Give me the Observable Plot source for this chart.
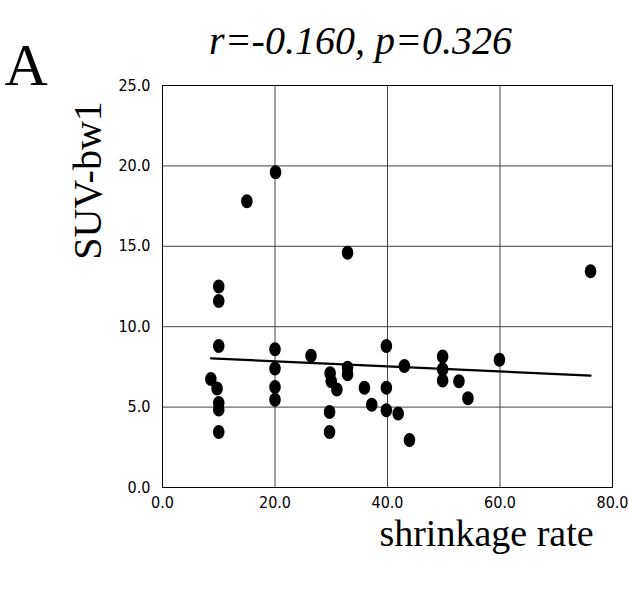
<!DOCTYPE html>
<html>
<head>
<meta charset="utf-8">
<script src="https://cdn.jsdelivr.net/npm/d3@7"></script>
<script src="https://cdn.jsdelivr.net/npm/@observablehq/plot@0.6"></script>
<style>
  html, body { margin: 0; padding: 0; background: #fff; }
  #chart svg { display: block; }
</style>
</head>
<body>
<div id="chart"></div>
<script>
// Shrinkage rate (%) of each lesion
const shrinkage = [
  10, 10, 10, 8.6, 9.7, 10, 10, 10,
  15, 20.1, 20, 20, 20, 20,
  26.4, 29.8, 30, 31, 29.7, 29.7,
  32.9, 32.9, 32.9, 35.9, 37.2,
  39.8, 39.8, 39.8, 41.9, 43, 43.9,
  49.8, 49.8, 49.8, 52.7, 54.3, 59.9, 76.1
];
// SUV-bw1 of each lesion
const suv = [
  12.5, 11.6, 8.8, 6.75, 6.15, 5.25, 4.85, 3.45,
  17.8, 19.6, 8.6, 7.4, 6.25, 5.45,
  8.2, 7.1, 6.6, 6.1, 4.7, 3.45,
  14.6, 7.45, 7.05, 6.2, 5.15,
  8.8, 6.2, 4.8, 4.6, 7.55, 2.95,
  8.15, 7.35, 6.65, 6.6, 5.55, 7.95, 13.45
];
const xTicks = [0, 20, 40, 60, 80];
const yTicks = [0, 5, 10, 15, 20, 25];
const panelLabel = "A";
const title = "r=-0.160, p=0.326";
const xLabel = "shrinkage rate";
const yLabel = "SUV-bw1";

const data = shrinkage.map((x, i) => ({x, y: suv[i]}));

// slightly tall elliptical dot, like the scanned markers
const ellipse = {
  draw(ctx, size) {
    const r = Math.sqrt(size / Math.PI);
    const rx = r * 0.82, ry = r, k = 0.5523;
    ctx.moveTo(rx, 0);
    ctx.bezierCurveTo(rx, k * ry, k * rx, ry, 0, ry);
    ctx.bezierCurveTo(-k * rx, ry, -rx, k * ry, -rx, 0);
    ctx.bezierCurveTo(-rx, -k * ry, -k * rx, -ry, 0, -ry);
    ctx.bezierCurveTo(k * rx, -ry, rx, -k * ry, rx, 0);
    ctx.closePath();
  }
};

const serif = "'Liberation Serif', 'Times New Roman', serif";
const fmt = d => d.toFixed(1);

const chart = Plot.plot({
  width: 628,
  height: 590,
  marginLeft: 162,
  marginRight: 16,
  marginTop: 85,
  marginBottom: 103,
  style: {
    fontFamily: "'Liberation Sans Narrow', 'DejaVu Sans Condensed', 'Liberation Sans', sans-serif",
    fontSize: "16px",
    color: "#000",
    background: "#fff",
    overflow: "visible"
  },
  x: {domain: [0, 80], ticks: xTicks, tickFormat: fmt, tickSize: 0, tickPadding: 9, label: null},
  y: {domain: [0, 25], ticks: yTicks, tickFormat: fmt, tickSize: 0, tickPadding: 12, label: null},
  marks: [
    Plot.ruleX(xTicks, {stroke: "#444", strokeWidth: 1}),
    Plot.ruleY(yTicks, {stroke: "#444", strokeWidth: 1}),
    Plot.frame({stroke: "#000", strokeWidth: 1}),
    Plot.linearRegressionY(data, {x: "x", y: "y", ci: 0, stroke: "#000", strokeWidth: 2.2}),
    Plot.dot(data, {x: "x", y: "y", r: 7, fill: "#000", stroke: "none", symbol: ellipse}),
    Plot.text([panelLabel], {text: d => d, frameAnchor: "top-left", textAnchor: "start", lineAnchor: "bottom",
      dx: -158, dy: -1, fontSize: 60, fontFamily: serif, fill: "#000"}),
    Plot.text([title], {text: d => d, frameAnchor: "top", textAnchor: "middle", lineAnchor: "bottom",
      dx: -27, dy: -32, fontSize: 40, fontStyle: "italic", fontFamily: serif, fill: "#000"}),
    Plot.text([yLabel], {text: d => d, frameAnchor: "left", textAnchor: "middle", lineAnchor: "bottom",
      rotate: -90, dx: -62, dy: -106, fontSize: 40, fontFamily: serif, fill: "#000"}),
    Plot.text([xLabel], {text: d => d, frameAnchor: "bottom", textAnchor: "middle", lineAnchor: "bottom",
      dx: 99, dy: 58, fontSize: 38, fontFamily: serif, fill: "#000"})
  ]
});
document.getElementById("chart").appendChild(chart);
</script>
</body>
</html>
